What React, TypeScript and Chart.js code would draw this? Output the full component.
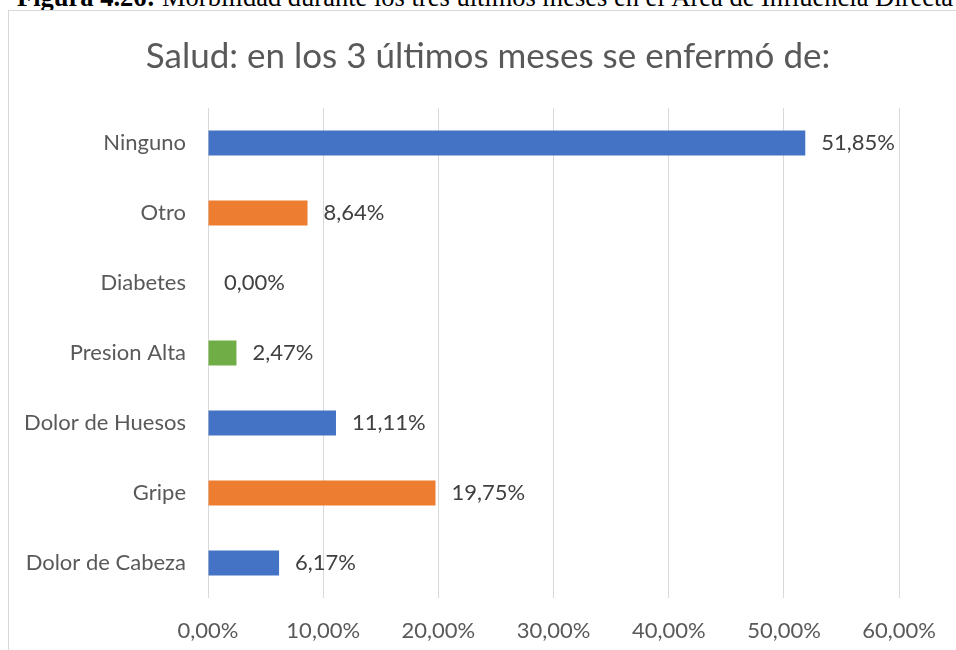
import React, { useEffect, useRef } from "react";
import { Chart, registerables } from "chart.js";
Chart.register(...registerables);

const categories = ["Ninguno", "Otro", "Diabetes", "Presion Alta", "Dolor de Huesos", "Gripe", "Dolor de Cabeza"];
const values = [51.85, 8.64, 0, 2.47, 11.11, 19.75, 6.17];
const barColors = ["#4472C4", "#ED7D31", "#A5A5A5", "#70AD47", "#4472C4", "#ED7D31", "#4472C4"];
const xMin = 0;
const xMax = 60;
const xStep = 10;
const titleText = "Salud: en los 3 últimos meses se enfermó de:";
const captionBold = "Figura 4.26:";
const captionRest = " Morbilidad durante los tres últimos meses en el Área de Influencia Directa";

const FONT = "Lato, 'Open Sans', sans-serif";
const fmt = (v: number) => v.toFixed(2).replace(".", ",") + "%";

const CANVAS_W = 947;
const CANVAS_H = 639;

const titlePlugin = {
  id: "customTitle",
  afterDraw(chart: any) {
    const ctx = chart.ctx;
    ctx.save();
    ctx.font = `35px ${FONT}`;
    ctx.fillStyle = "#595959";
    ctx.textAlign = "center";
    ctx.textBaseline = "middle";
    ctx.fillText(titleText, 479, 46);
    ctx.restore();
  },
};

const valueLabelPlugin = {
  id: "valueLabels",
  afterDatasetsDraw(chart: any) {
    const ctx = chart.ctx;
    const meta = chart.getDatasetMeta(0);
    ctx.save();
    ctx.font = `22px ${FONT}`;
    ctx.fillStyle = "#404040";
    ctx.textAlign = "left";
    ctx.textBaseline = "middle";
    meta.data.forEach((el: any, i: number) => {
      ctx.fillText(fmt(values[i]), el.x + 16, el.y);
    });
    ctx.restore();
  },
};

export default function App() {
  const ref = useRef<HTMLCanvasElement | null>(null);
  useEffect(() => {
    if (!ref.current) return;
    const chart = new Chart(ref.current, {
      type: "bar",
      data: {
        labels: categories,
        datasets: [
          {
            data: values,
            backgroundColor: barColors,
            borderWidth: 0,
            barPercentage: 0.36,
            categoryPercentage: 1,
          },
        ],
      },
      options: {
        indexAxis: "y",
        responsive: false,
        animation: false,
        layout: { padding: { top: 97, right: 53, left: 0, bottom: 0 } },
        plugins: { legend: { display: false }, tooltip: { enabled: false }, title: { display: false } },
        scales: {
          x: {
            min: xMin,
            max: xMax,
            ticks: {
              stepSize: xStep,
              callback: (v: any) => fmt(Number(v)),
              color: "#595959",
              font: { family: FONT, size: 22 },
              padding: 20,
              maxRotation: 0,
            },
            grid: { color: "#d9d9d9", drawTicks: false, lineWidth: 1 },
            border: { display: false },
            afterFit: (s: any) => {
              s.height = 52;
            },
          },
          y: {
            ticks: {
              color: "#595959",
              font: { family: FONT, size: 22 },
              padding: 22,
            },
            grid: { display: false, drawTicks: false },
            border: { display: false },
            afterFit: (s: any) => {
              s.width = 199;
            },
          },
        },
      },
      plugins: [titlePlugin, valueLabelPlugin],
    });
    return () => chart.destroy();
  }, []);

  return (
    <div style={{ position: "absolute", left: 0, top: 0, width: 956, height: 650, overflow: "hidden", background: "#fff" }}>
      <div
        style={{
          position: "absolute",
          left: 17,
          top: -16,
          fontFamily: "'Liberation Serif', 'Times New Roman', serif",
          fontSize: 26.5,
          lineHeight: "26.5px",
          whiteSpace: "nowrap",
          color: "#000",
        }}
      >
        <b>{captionBold}</b>
        {captionRest}
      </div>
      <div
        style={{
          position: "absolute",
          left: 8,
          top: 10,
          width: 960,
          height: 660,
          borderLeft: "1px solid #d9d9d9",
          borderTop: "1px solid #d9d9d9",
          background: "#fff",
        }}
      >
        <canvas ref={ref} width={CANVAS_W} height={CANVAS_H} style={{ position: "absolute", left: 0, top: 0 }} />
      </div>
    </div>
  );
}
